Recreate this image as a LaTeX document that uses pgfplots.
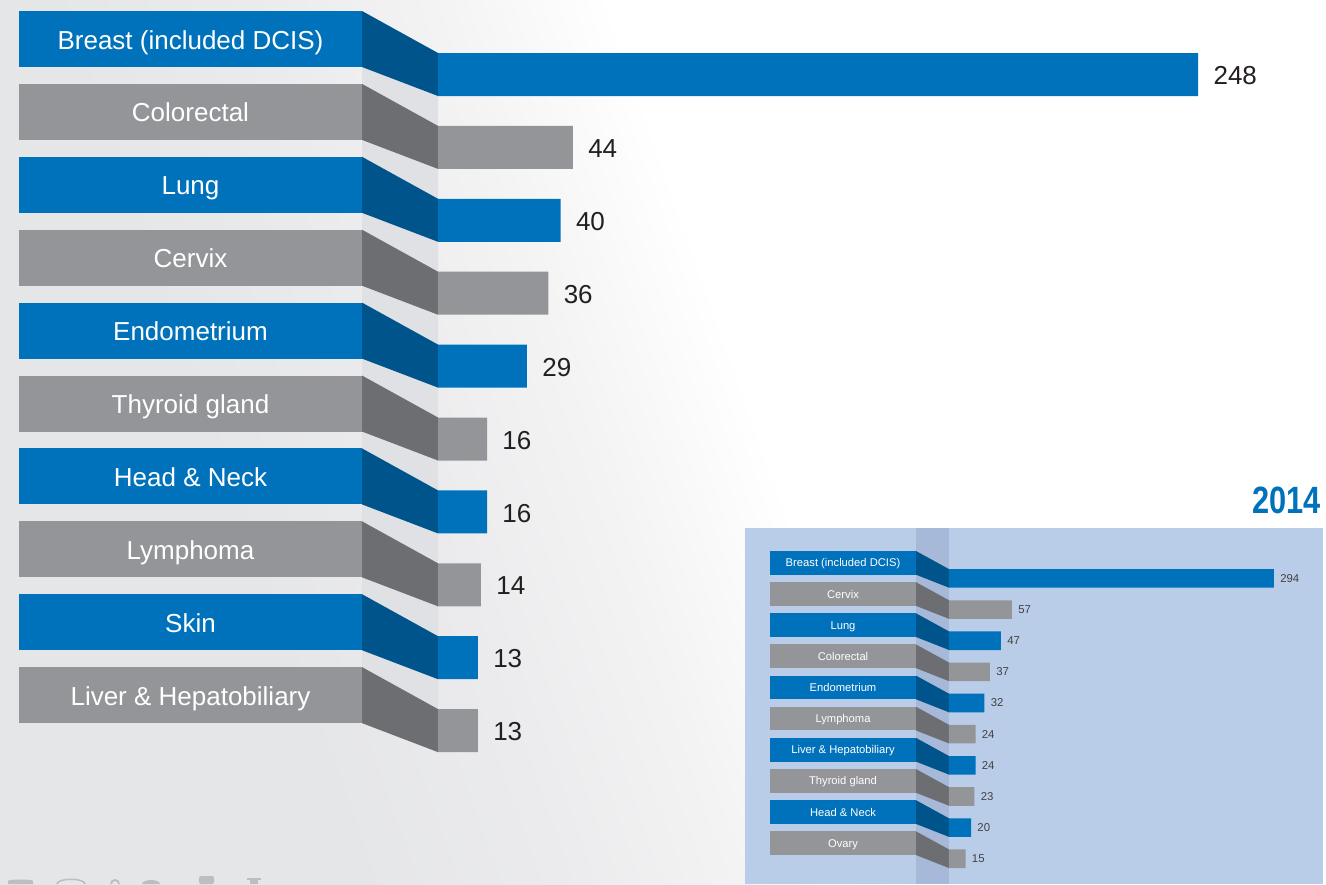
\documentclass[border=0pt]{standalone}
\usepackage{fontspec}
\setmainfont{Liberation Sans}
\usepackage{graphicx}
\usepackage{pgfplots}
\pgfplotsset{compat=1.18}
\definecolor{cblue}{HTML}{0072BC}
\definecolor{cdblue}{HTML}{00548C}
\definecolor{cgray}{HTML}{939598}
\definecolor{cdgray}{HTML}{6D6E71}
\definecolor{clight}{HTML}{E0E1E4}
\definecolor{bggray}{HTML}{E5E6E8}
\definecolor{bgmid1}{HTML}{EBEBED}
\definecolor{bgmid2}{HTML}{F3F3F4}
\definecolor{insetbg}{HTML}{B9CDE9}
\definecolor{insetband}{HTML}{A7B9D8}
\definecolor{txt}{HTML}{231F20}
\definecolor{icon}{HTML}{BDBEC0}
\pgfdeclareverticalshading{bgsh}{100bp}{color(0bp)=(bggray); color(32bp)=(bggray); color(40bp)=(bgmid1); color(47bp)=(bgmid2); color(54bp)=(white); color(100bp)=(white)}
\begin{document}
\begin{tikzpicture}
% ---------- background gradient (pixel units, y up) ----------
\begin{scope}[x=0.5pt,y=0.5pt,shift={(0pt,-442pt)}]
  \shade[shading=bgsh, shading angle=-70.5] (0,0) rectangle (1326,884);
\end{scope}
% ---------- decorations in pixel units (origin top-left, y down) ----------
\begin{scope}[x=0.5pt,y=-0.5pt]
  % icons at bottom (partly visible)
  \fill[icon] (8,884) -- (8,881) .. controls (8,879) and (33,879) .. (33,881) -- (33,884) -- cycle;
  \fill[icon, even odd rule] (56,884) arc[start angle=180, end angle=360, x radius=15, y radius=5.5] -- (84,884) arc[start angle=0, end angle=-180, x radius=13, y radius=4] -- cycle;
  \fill[icon, even odd rule] (110,884) arc[start angle=180, end angle=360, radius=5] -- (118,884) arc[start angle=0, end angle=-180, radius=3] -- cycle;
  \fill[icon] (142,884) arc[start angle=180, end angle=360, x radius=9, y radius=4] -- cycle;
  \fill[icon, rounded corners=1pt] (199,884) rectangle (214,876);
  \fill[icon] (247,878) rectangle (261,880);
  \fill[icon] (250,880) rectangle (258,884);
  % main light band
  \fill[clight] (362,67) -- (438,96) -- (438,752.1) -- (362,723.1) -- cycle;
  \foreach \c/\d/\lab [count=\i from 0] in {cblue/cdblue/Breast (included DCIS), cgray/cdgray/Colorectal, cblue/cdblue/Lung, cgray/cdgray/Cervix, cblue/cdblue/Endometrium, cgray/cdgray/Thyroid gland, cblue/cdblue/Head \& Neck, cgray/cdgray/Lymphoma, cblue/cdblue/Skin, cgray/cdgray/Liver \& Hepatobiliary}{
    \pgfmathsetmacro\t{11+72.9*\i}
    \fill[\c] (19,\t) rectangle (362,\t+56);
    \fill[\d] (362,\t) -- (438,\t+42) -- (438,\t+85) -- (362,\t+56) -- cycle;
    \node[anchor=base, inner sep=0pt, text=white, font=\fontsize{13}{15}\selectfont] at (190.5,\t+38) {\lab};
  }
  % inset panel
  \fill[insetbg] (745,528) rectangle (1323,884);
  \fill[insetband] (916,528) rectangle (949,884);
  \node[anchor=base east, inner sep=0pt, text=cblue, font=\bfseries\fontsize{19}{19}\selectfont] at (1321,513) {\scalebox{0.81}[1]{2014}};
  \foreach \c/\d/\lab [count=\i from 0] in {cblue/cdblue/Breast (included DCIS), cgray/cdgray/Cervix, cblue/cdblue/Lung, cgray/cdgray/Colorectal, cblue/cdblue/Endometrium, cgray/cdgray/Lymphoma, cblue/cdblue/Liver \& Hepatobiliary, cgray/cdgray/Thyroid gland, cblue/cdblue/Head \& Neck, cgray/cdgray/Ovary}{
    \pgfmathsetmacro\t{551+31.15*\i}
    \fill[\c] (770,\t) rectangle (916,\t+23.7);
    \fill[\d] (916,\t) -- (949,\t+18.1) -- (949,\t+36.7) -- (916,\t+23.7) -- cycle;
    \node[anchor=base, inner sep=0pt, text=white, font=\fontsize{5.6}{6.5}\selectfont] at (843,\t+15.9) {\lab};
  }
\end{scope}
% ---------- main chart ----------
\begin{axis}[at={(0pt,0pt)}, anchor=north west, scale only axis,
  width=663pt, height=442pt, xmin=-142.90, xmax=289.72, ymin=-884, ymax=0,
  hide axis, clip=false, /pgf/number format/assume math mode=true]
\addplot[xbar, bar shift=0pt, bar width=43, fill=cblue, draw=none, point meta=x,
  nodes near coords, nodes near coords align=horizontal,
  every node near coord/.append style={anchor=west, inner sep=0pt, xshift=7.5pt, yshift=-0.6pt, text=txt, font=\fontsize{13}{15}\selectfont}]
  coordinates {(248,-74.5) (40,-220.3) (29,-366.1) (16,-511.9) (13,-657.7)};
\addplot[xbar, bar shift=0pt, bar width=43, fill=cgray, draw=none, point meta=x,
  nodes near coords, nodes near coords align=horizontal,
  every node near coord/.append style={anchor=west, inner sep=0pt, xshift=7.5pt, yshift=-0.6pt, text=txt, font=\fontsize{13}{15}\selectfont}]
  coordinates {(44,-147.4) (36,-293.2) (16,-439.0) (14,-584.8) (13,-730.6)};
\end{axis}
% ---------- 2014 inset ----------
\begin{axis}[at={(372.5pt,-264pt)}, anchor=north west, scale only axis,
  width=289pt, height=178pt, xmin=-184.6, xmax=338.5, ymin=-884, ymax=-528,
  hide axis, clip=false, /pgf/number format/assume math mode=true]
\addplot[xbar, bar shift=0pt, bar width=18.6, fill=cblue, draw=none, point meta=x,
  nodes near coords, nodes near coords align=horizontal,
  every node near coord/.append style={anchor=west, inner sep=0pt, xshift=3pt, text=txt!85, font=\fontsize{5.7}{6.5}\selectfont}]
  coordinates {(294,-578.4) (47,-640.7) (32,-703.0) (24,-765.3) (20,-827.6)};
\addplot[xbar, bar shift=0pt, bar width=18.6, fill=cgray, draw=none, point meta=x,
  nodes near coords, nodes near coords align=horizontal,
  every node near coord/.append style={anchor=west, inner sep=0pt, xshift=3pt, text=txt!85, font=\fontsize{5.7}{6.5}\selectfont}]
  coordinates {(57,-609.55) (37,-671.85) (24,-734.15) (23,-796.45) (15,-858.75)};
\end{axis}
\end{tikzpicture}
\end{document}
